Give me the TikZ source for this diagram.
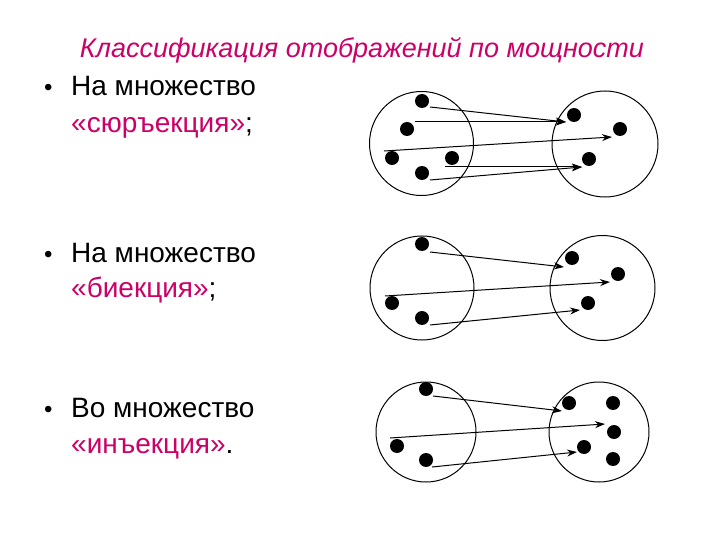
\documentclass[tikz,border=0pt]{standalone}
\usepackage{fontspec}
\setmainfont{Liberation Sans}
\usetikzlibrary{arrows.meta}
\definecolor{titlecol}{RGB}{204,0,102}
\begin{document}
\begin{tikzpicture}[x=1pt,y=-1pt,
  setcirc/.style={draw,circle,line width=1pt,inner sep=0pt,minimum size=#1},
  dot/.style={circle,fill=black,inner sep=0pt,minimum size=14pt},
  map/.style={line width=1pt,-{Stealth[length=10pt,width=7pt]}},
  bodytext/.style={anchor=base west,inner sep=0pt,font=\fontsize{28}{32}\selectfont},
  bul/.style={anchor=base west,inner sep=0pt,font=\fontsize{24}{30}\selectfont}]
\useasboundingbox (0,0) rectangle (720,540);
% title
\node[inner sep=0pt,text=titlecol,font=\fontsize{27}{32}\selectfont\itshape] (title) at (362,50) {Классификация отображений по мощности};
% texts
\node[bul] (b1) at (44,96) {•};
\node[bodytext] (t1a) at (71,96) {На множество};
\node[bodytext] (t1b) at (71,133) {\textcolor{titlecol}{«сюръекция»};};
\node[bul] (b2) at (44,262) {•};
\node[bodytext] (t2a) at (71,262) {На множество};
\node[bodytext] (t2b) at (71,297) {\textcolor{titlecol}{«биекция»};};
\node[bul] (b3) at (44,417) {•};
\node[bodytext] (t3a) at (71,417) {Во множество};
\node[bodytext] (t3b) at (71,453) {\textcolor{titlecol}{«инъекция»}.};
% ---- diagram 1
\node[setcirc=104pt] (L1) at (421.5,143.5) {};
\node[setcirc=106pt] (R1) at (605,144) {};
\node[dot] (l1a) at (422,101) {};
\node[dot] (l1b) at (407,129) {};
\node[dot] (l1c) at (392,158) {};
\node[dot] (l1d) at (452,158) {};
\node[dot] (l1e) at (422,173) {};
\node[dot] (r1a) at (574,115) {};
\node[dot] (r1b) at (620,129) {};
\node[dot] (r1c) at (589,159) {};
\coordinate (s1a) at (430,107);
\coordinate (s1b) at (415,122);
\coordinate (s1c) at (384,151);
\coordinate (s1d) at (445,167);
\coordinate (s1e) at (430,180);
\coordinate (e1a) at (566,122);
\coordinate (e1b) at (612,137);
\coordinate (e1c) at (582,167);
\draw[map] (s1a) -- (e1a);
\draw[map] (s1b) -- (e1a);
\draw[map] (s1c) -- (e1b);
\draw[map] (s1d) -- (e1c);
\draw[map] (s1e) -- (e1c);
% ---- diagram 2
\node[setcirc=104pt] (L2) at (422,288) {};
\node[setcirc=105pt] (R2) at (602.5,288) {};
\node[dot] (l2a) at (422,244) {};
\node[dot] (l2b) at (392,303) {};
\node[dot] (l2c) at (422,318) {};
\node[dot] (r2a) at (572,258) {};
\node[dot] (r2b) at (618,274) {};
\node[dot] (r2c) at (588,303) {};
\coordinate (s2a) at (430,252);
\coordinate (s2b) at (385,296);
\coordinate (s2c) at (430,325);
\coordinate (e2a) at (564,267);
\coordinate (e2b) at (610,282);
\coordinate (e2c) at (580,310);
\draw[map] (s2a) -- (e2a);
\draw[map] (s2b) -- (e2b);
\draw[map] (s2c) -- (e2c);
% ---- diagram 3
\node[setcirc=100pt] (L3) at (426,432) {};
\node[setcirc=100pt] (R3) at (599,432) {};
\node[dot] (l3a) at (426,389) {};
\node[dot] (l3b) at (397,446) {};
\node[dot] (l3c) at (426,460) {};
\node[dot] (r3a) at (569,403) {};
\node[dot] (r3b) at (613,403) {};
\node[dot] (r3c) at (614,432) {};
\node[dot] (r3d) at (584,447) {};
\node[dot] (r3e) at (613,459) {};
\coordinate (s3a) at (433,396);
\coordinate (s3b) at (390,438);
\coordinate (s3c) at (432,467);
\coordinate (e3a) at (562,411);
\coordinate (e3b) at (605,424);
\coordinate (e3c) at (577,452);
\draw[map] (s3a) -- (e3a);
\draw[map] (s3b) -- (e3b);
\draw[map] (s3c) -- (e3c);
\end{tikzpicture}
\end{document}
